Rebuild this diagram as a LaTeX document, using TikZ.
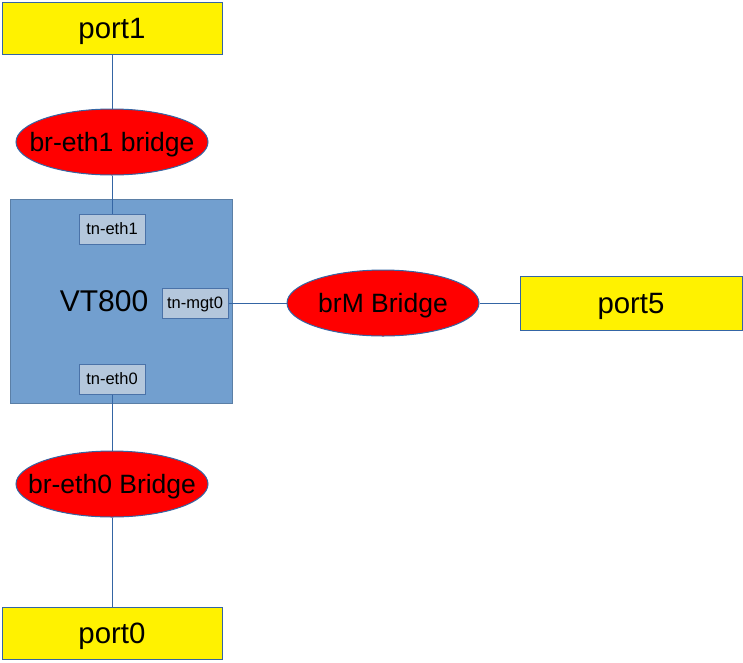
\documentclass[tikz,border=0pt]{standalone}
\usepackage{fontspec}
\setmainfont{Liberation Sans}
\usetikzlibrary{shapes.geometric}
\definecolor{lineblue}{HTML}{3465A4}
\definecolor{boxblue}{HTML}{729FCF}
\definecolor{boxedge}{HTML}{4A72A8}
\definecolor{ifill}{HTML}{B4C7DC}
\begin{document}
\begin{tikzpicture}[x=1pt,y=-1pt,
  port/.style={draw=lineblue,fill=yellow,line width=1pt,minimum width=220pt,minimum height=52pt,inner sep=0pt,text depth=0pt,font=\fontsize{29.4}{32}\selectfont},
  port5s/.style={draw=lineblue,fill=yellow,line width=1pt,minimum width=222pt,minimum height=54pt,inner sep=0pt,text depth=0pt,font=\fontsize{29.4}{32}\selectfont},
  bridge/.style={ellipse,draw=lineblue,fill=red,line width=1pt,minimum width=192pt,minimum height=66pt,inner sep=0pt},
  btext/.style={text depth=0pt,font=\fontsize{26.5}{30}\selectfont},
  iface/.style={draw=boxedge,fill=ifill,line width=1pt,minimum width=66pt,minimum height=30pt,inner sep=0pt,text depth=0pt,font=\fontsize{16.5}{19}\selectfont},
  conn/.style={draw=lineblue,line width=0.8pt}]
\useasboundingbox (0,0) rectangle (743,662);
\node[draw=boxblue!80!black,fill=boxblue,line width=1pt,minimum width=222pt,minimum height=204pt,inner sep=0pt] (vt) at (121,301) {};
\node[text depth=0pt,font=\fontsize{30}{34}\selectfont] (vtl) at (104,301) {VT800};
\node[port] (p1) at (112,28) {port1};
\node[bridge,label={[btext]center:br-eth1 bridge}] (b1) at (112,142) {};
\node[iface] (e1) at (112,229) {tn-eth1};
\node[iface] (m0) at (195,303) {tn-mgt0};
\node[iface] (e0) at (112,379) {tn-eth0};
\node[bridge,label={[btext]center:brM Bridge}] (bm) at (383,303) {};
\node[port5s] (p5) at (631,303) {port5};
\node[bridge,label={[btext]center:br-eth0 Bridge}] (b0) at (112,484) {};
\node[port] (p0) at (112,633) {port0};
\draw[conn] (p1) -- (b1);
\draw[conn] (b1) -- (e1);
\draw[conn] (e0) -- (b0);
\draw[conn] (b0) -- (p0);
\draw[conn] (m0) -- (bm);
\draw[conn] (bm) -- (p5);
\end{tikzpicture}
\end{document}
